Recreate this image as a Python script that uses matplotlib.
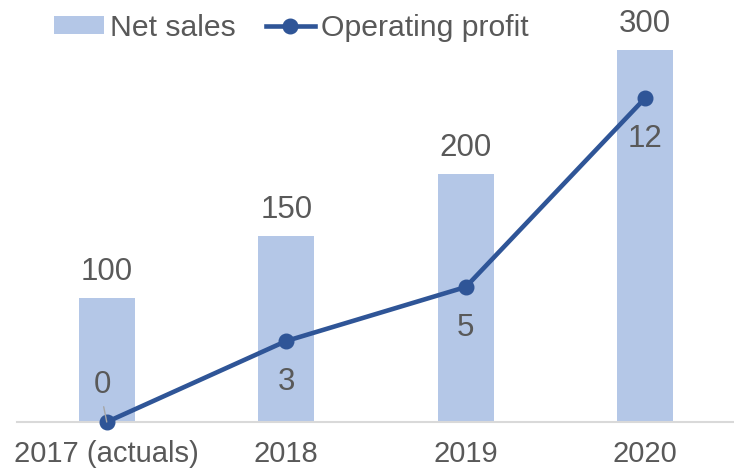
import matplotlib
matplotlib.use("Agg")
import matplotlib.pyplot as plt
from matplotlib.patches import Patch
from matplotlib.lines import Line2D

categories = ["2017 (actuals)", "2018", "2019", "2020"]
net_sales = [100, 150, 200, 300]
operating_profit = [0, 3, 5, 12]

plt.rcParams['font.family'] = ['Liberation Sans', 'DejaVu Sans']
text_color = "#595959"
bar_color = "#B4C7E7"
line_color = "#2F5597"

fig = plt.figure(figsize=(7.34, 4.69), dpi=100)
ax = fig.add_axes([17/734, 47/469, 718/734, 422/469])
x = list(range(len(categories)))
ax.bar(x, net_sales, width=0.31, color=bar_color, zorder=1)
ax.set_xlim(-0.5, 3.5)
ax.set_ylim(0, 340)
for s in ["top", "right", "left"]:
    ax.spines[s].set_visible(False)
ax.spines["bottom"].set_color("#D9D9D9")
ax.spines["bottom"].set_linewidth(1.5)
ax.set_yticks([])
ax.set_xticks(x)
ax.set_xticklabels(categories, fontsize=21, color=text_color)
ax.tick_params(axis="x", length=0, pad=13)

for xi, v in zip(x, net_sales):
    ax.annotate(str(v), (xi, v), xytext=(0, 13), textcoords="offset points",
                ha="center", va="baseline", fontsize=22.5, color=text_color)

ax2 = ax.twinx()
ax2.set_ylim(0, 422/27)
ax2.set_axis_off()
ax2.plot(x, operating_profit, color=line_color, lw=3.3, marker="o", markersize=10.5,
         solid_capstyle="round", zorder=3, clip_on=False)

for xi, v in zip(x, operating_profit):
    if xi == 0:
        ax2.annotate(str(v), (xi, v), xytext=(-3, 27), textcoords="offset points",
                     ha="center", va="center", fontsize=22.5, color=text_color)
        ax2.annotate("", (xi, v), xytext=(-2.2, 11), textcoords="offset points",
                     arrowprops=dict(arrowstyle="-", color="#A6A6A6", lw=1,
                                     shrinkA=0, shrinkB=0))
    else:
        ax2.annotate(str(v), (xi, v), xytext=(0, -29.5), textcoords="offset points",
                     ha="center", va="center", fontsize=22.5, color=text_color)

handles = [Patch(facecolor=bar_color, edgecolor="none"),
           Line2D([0], [0], color=line_color, lw=3.3, marker="o", markersize=10.5)]
leg = fig.legend(handles, ["Net sales", "Operating profit"], loc="center",
                 bbox_to_anchor=(291.5/734, 1 - 28/469), ncol=2, frameon=False,
                 fontsize=21.7, handlelength=1.65, handletextpad=0.2, columnspacing=1.0,
                 handleheight=0.55)
for t in leg.get_texts():
    t.set_color(text_color)

fig.savefig("out.png", dpi=100)
